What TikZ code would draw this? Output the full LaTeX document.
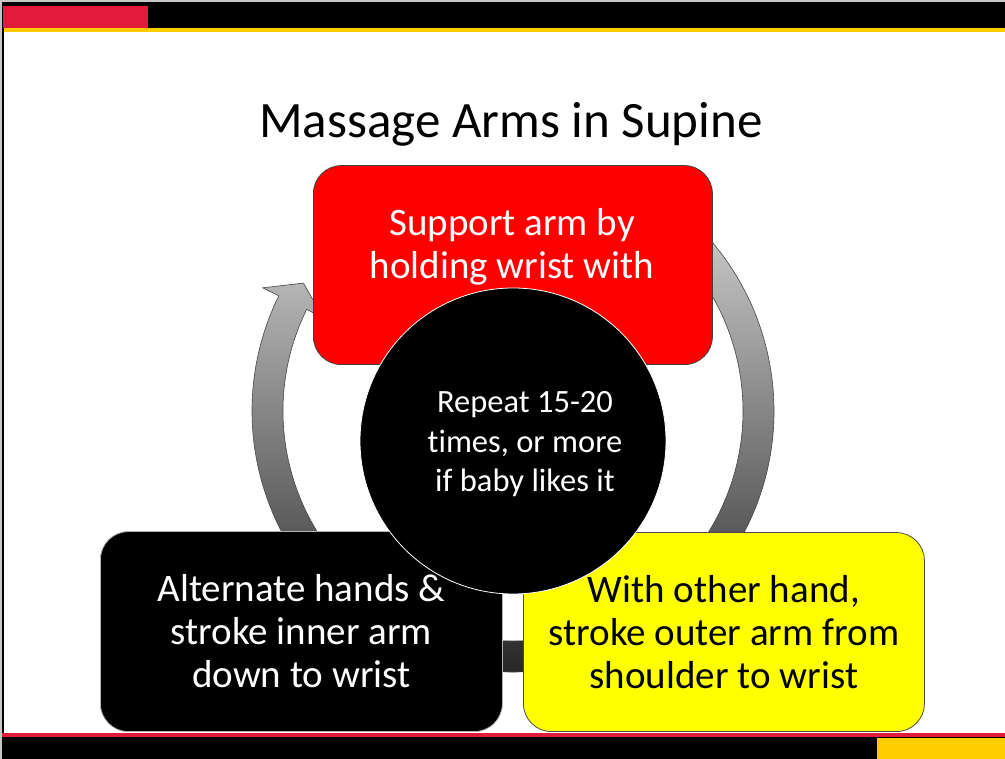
\documentclass[tikz,border=0pt]{standalone}
\usepackage{fontspec}
\setmainfont[Ligatures={NoCommon}]{Carlito}
\definecolor{frred}{HTML}{E31B3A}
\definecolor{fryel}{HTML}{FFCC00}
\definecolor{boxyel}{HTML}{FFFF00}
\definecolor{boxred}{HTML}{FF0000}
\definecolor{ringtop}{HTML}{D4D4D4}
\definecolor{ringmid}{HTML}{A6A6A6}
\definecolor{ringbot}{HTML}{1A1A1A}
\begin{document}
\begin{tikzpicture}[x=1pt,y=1pt,
  boxtxt/.style={font=\fontsize{39}{43}\selectfont, align=center},
  stepbox/.style={rounded corners=28pt, line width=0.8pt, inner sep=0pt},
  circtxt/.style={font=\fontsize{32.5}{39.5}\selectfont, align=center, text=white},
]
\useasboundingbox (0,0) rectangle (1005,759);
\fill[white] (0,0) rectangle (1005,759);
% frame
\fill[gray!45] (0,0) rectangle (2,759);
\fill[gray!45] (0,757) rectangle (1005,759);
\fill[black] (2,731) rectangle (1005,757);
\fill[frred] (3,731) rectangle (148,753);
\fill[fryel] (2,727) rectangle (1005,731);
\fill[black] (2.2,22) rectangle (4,731);
\fill[frred] (2,22) rectangle (1005,26);
\fill[black] (2,0) rectangle (1005,22);
\fill[fryel] (877,0) rectangle (1005,21);
% title
\node[font=\fontsize{51}{61}\selectfont, anchor=base] (title) at (511,621) {Massage Arms in Supine};
% ring arrow
\shade[top color=ringtop, middle color=ringmid, bottom color=ringbot,
       draw=gray!55!black, line width=0.6pt, shift={(513,348)}]
  (55:261pt) arc[start angle=55, end angle=-206.2, radius=261pt]
  -- (153.8:279pt) -- (148.6:245.5pt) -- (153.8:212pt) -- (153.8:230pt)
  arc[start angle=-206.2, end angle=55, radius=230pt] -- cycle;
% boxes
\node[stepbox, fill=boxred, draw=black!75, minimum width=399pt, minimum height=199pt, anchor=south west] (sup) at (313,394) {};
\node[boxtxt, text=white] (suptxt) at (512,512.5) {Support arm by\\holding wrist with};
\node[stepbox, fill=black, draw=gray!60, minimum width=402pt, minimum height=200pt, anchor=south west, boxtxt, text=white] (alt) at (100,27) {Alternate hands \&\\stroke inner arm\\down to wrist};
\node[stepbox, fill=boxyel, draw=black!70, minimum width=401pt, minimum height=199pt, anchor=south west, boxtxt, text=black] (oth) at (523,27) {With other hand,\\stroke outer arm from\\shoulder to wrist};
% centre circle
\node[circle, fill=black, draw=white, line width=0.8pt, minimum size=306pt, inner sep=0pt] (rep) at (513,318) {};
\node[circtxt] (reptxt) at (525,314.5) {Repeat 15-20\\times, or more\\if baby likes it};
\end{tikzpicture}
\end{document}
